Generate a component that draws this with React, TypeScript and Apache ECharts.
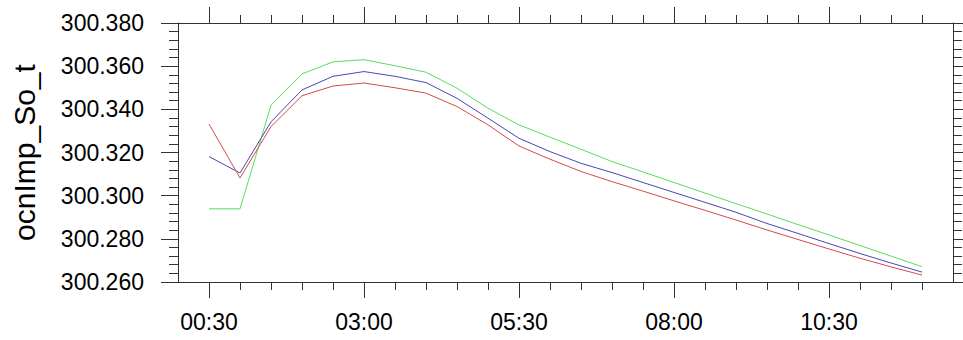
import React, { useEffect, useRef } from "react";
import * as echarts from "echarts";

// time in hours since 00:00
const hours = [0.5, 1, 1.5, 2, 2.5, 3, 3.5, 4, 4.5, 5, 5.5, 6, 6.5, 7, 7.5, 8, 8.5, 9, 9.5, 10, 10.5, 11, 11.5, 12];

const redSeries = [
  300.3332, 300.3082, 300.332, 300.3463, 300.3508, 300.3522, 300.35, 300.3475,
  300.3413, 300.3328, 300.323, 300.3169, 300.3112, 300.3065, 300.3021, 300.2976,
  300.2932, 300.2887, 300.2841, 300.2797, 300.2753, 300.271, 300.267, 300.2632,
];
const blueSeries = [
  300.3181, 300.3105, 300.3342, 300.349, 300.3553, 300.3575, 300.3553, 300.3524,
  300.3451, 300.3359, 300.3266, 300.3204, 300.315, 300.3107, 300.3061, 300.3015,
  300.2969, 300.2923, 300.2871, 300.2825, 300.2778, 300.2732, 300.2688, 300.2646,
];
const greenSeries = [
  300.2939, 300.2939, 300.3419, 300.3564, 300.362, 300.363, 300.3602, 300.3572,
  300.3498, 300.3405, 300.3328, 300.3271, 300.3215, 300.3158, 300.311, 300.3061,
  300.3012, 300.2963, 300.2915, 300.2866, 300.2818, 300.2769, 300.272, 300.2671,
];

const majorTicks = [0.5, 3, 5.5, 8, 10.5];
const majorLabels = ["00:30", "03:00", "05:30", "08:00", "10:30"];
const minorTicks = hours;

const yMin = 300.26;
const yMax = 300.38;
const yInterval = 0.02;
const yTitle = "ocnImp_So_t";

const FONT = "Liberation Sans, Arial, Helvetica, sans-serif";
const AXIS_COLOR = "#333";

export default function App() {
  const ref = useRef<HTMLDivElement>(null);

  useEffect(() => {
    if (!ref.current) return;
    const chart = echarts.init(ref.current, undefined, { renderer: "svg" });

    const xBase = (position: "top" | "bottom", major: boolean, labels: boolean) => ({
      type: "value",
      position,
      min: 0,
      max: 12.5,
      axisLine: { show: true, onZero: false, lineStyle: { color: AXIS_COLOR, width: 1 } },
      axisTick: {
        show: true,
        inside: false,
        length: major ? 16 : 8,
        customValues: major ? majorTicks : minorTicks,
        lineStyle: { color: AXIS_COLOR, width: 1 },
      },
      axisLabel: labels
        ? {
            show: true,
            customValues: majorTicks,
            margin: 28,
            fontSize: 23,
            fontFamily: FONT,
            color: "#000",
            formatter: (v: number) => {
              const i = majorTicks.indexOf(v);
              return i >= 0 ? majorLabels[i] : "";
            },
          }
        : { show: false },
      splitLine: { show: false },
    });

    const yBase = (position: "left" | "right", labels: boolean) => ({
      type: "value",
      position,
      min: yMin,
      max: yMax,
      interval: yInterval,
      name: labels ? yTitle : "",
      nameLocation: "middle",
      nameGap: 139,
      nameTextStyle: { fontSize: 30, fontFamily: FONT, color: "#000" },
      axisLine: { show: true, onZero: false, lineStyle: { color: AXIS_COLOR, width: 1 } },
      axisTick: { show: true, inside: false, length: 17, lineStyle: { color: AXIS_COLOR, width: 1 } },
      minorTick: { show: true, splitNumber: 5, length: 9, lineStyle: { color: AXIS_COLOR, width: 1 } },
      axisLabel: labels
        ? {
            show: true,
            margin: 34,
            fontSize: 23,
            fontFamily: FONT,
            color: "#000",
            formatter: (v: number) => v.toFixed(3),
          }
        : { show: false },
      splitLine: { show: false },
      minorSplitLine: { show: false },
    });

    const mk = (data: number[], color: string, name: string) => ({
      type: "line",
      name,
      xAxisIndex: 0,
      yAxisIndex: 0,
      data: hours.map((h, i) => [h, data[i]]),
      showSymbol: false,
      symbol: "none",
      lineStyle: { color, width: 1 },
      itemStyle: { color },
      z: 3,
    });

    chart.setOption({
      animation: false,
      backgroundColor: "#fff",
      grid: {
        left: 178,
        top: 23,
        right: 10,
        bottom: 58,
        containLabel: false,
        outerBoundsMode: "none",
      },
      xAxis: [
        xBase("bottom", false, false),
        xBase("bottom", true, true),
        xBase("top", false, false),
        xBase("top", true, false),
      ],
      yAxis: [yBase("left", true), yBase("right", false)],
      series: [
        mk(greenSeries, "#5cdc5c", "green"),
        mk(blueSeries, "#4848b4", "blue"),
        mk(redSeries, "#d84848", "red"),
      ],
    });

    return () => chart.dispose();
  }, []);

  return (
    <div
      ref={ref}
      style={{ position: "fixed", left: 0, top: 0, width: 963, height: 340, background: "#fff" }}
    />
  );
}
